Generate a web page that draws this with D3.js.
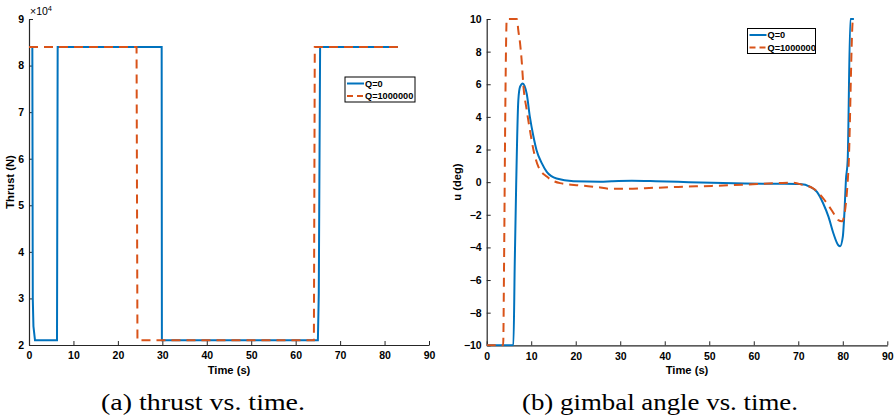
<!DOCTYPE html>
<html><head><meta charset="utf-8">
<script src="https://cdn.jsdelivr.net/npm/d3@7"></script>
<style>
body{margin:0;background:#fff;}
svg text{font-family:"Liberation Sans",Arial,sans-serif;}
svg text.cap{font-family:"Liberation Serif","DejaVu Serif",serif;}
</style></head>
<body><svg id="c" width="895" height="419"></svg>
<script>
// ---- data ----
const seriesNames = ["Q=0", "Q=1000000"];
// thrust (N)
const thrustT0 = [0, 0.75, 0.85, 1.0, 1.35, 6.3, 6.45, 29.85, 29.9, 65.0, 65.2, 65.5, 83];
const thrustV0 = [84000, 84000, 30000, 24000, 21000, 21000, 84000, 84000, 21000, 21000, 31000, 84000, 84000];
const thrustT1 = [0, 24.2, 24.4, 64.1, 64.3, 83];
const thrustV1 = [84000, 84000, 21000, 21000, 84000, 84000];
// gimbal angle (deg)
const gimT0 = [0, 6.0, 6.3, 6.6, 7.1, 7.5, 8.1, 8.5, 9.0, 9.7, 10.5, 11.2, 12.4, 13.5, 15.7, 19.5, 25.5, 28.1, 32.6, 38, 43, 50.6, 58, 65.5, 70.4, 72.7, 74.2, 75.6, 76.8, 77.9, 79.0, 79.4, 80.0, 80.4, 80.7, 81.1, 81.7, 82.5];
const gimU0 = [-10, -10, -5, -0.5, 5.0, 5.85, 6.05, 5.9, 5.4, 4.0, 2.8, 1.96, 1.15, 0.63, 0.22, 0.06, 0.03, 0.06, 0.09, 0.06, 0.02, -0.04, -0.08, -0.1, -0.12, -0.29, -0.6, -1.31, -2.13, -3.15, -3.87, -3.93, -3.36, -1.7, 0.12, 1.35, 10, 10];
const gimT1 = [0, 3.7, 3.9, 4.2, 4.5, 6.8, 7.1, 7.5, 7.9, 8.2, 9.0, 9.7, 10.5, 11.6, 13.5, 16.5, 21, 24.7, 28.1, 31.8, 35.6, 43, 50.6, 58, 65.5, 68.9, 71.1, 73.4, 75.6, 77.5, 79.0, 79.8, 80.4, 80.9, 81.3, 82.3, 82.6];
const gimU1 = [-10, -10, -5, 5, 10, 10, 9.3, 8.5, 7.3, 6.06, 4.4, 3.2, 1.98, 0.95, 0.34, -0.06, -0.2, -0.3, -0.41, -0.41, -0.37, -0.29, -0.23, -0.15, -0.06, -0.04, -0.18, -0.39, -1.0, -1.72, -2.33, -2.4, -1.92, -0.7, 0.94, 10, 10];
const xTicks = [0, 10, 20, 30, 40, 50, 60, 70, 80, 90];
const thrustTicks = [2, 3, 4, 5, 6, 7, 8, 9];
const gimTicks = [-10, -8, -6, -4, -2, 0, 2, 4, 6, 8, 10];
const captions = ["(a) thrust vs. time.", "(b) gimbal angle vs. time."];

const colors = ["#0072BD", "#D95319"];
const svg = d3.select("#c");
const axisColor = "#262626";

function panel(cfg) {
  const g = svg.append("g");
  const x = d3.scaleLinear().domain([0, 90]).range([cfg.x0, cfg.x1]);
  const y = d3.scaleLinear().domain(cfg.ydom).range([cfg.y1, cfg.y0]);
  const id = "clip" + cfg.key;
  svg.append("defs").append("clipPath").attr("id", id).append("rect")
    .attr("x", cfg.x0).attr("y", cfg.y0 - 1).attr("width", cfg.x1 - cfg.x0).attr("height", cfg.y1 - cfg.y0 + 2);

  const xa = g.append("g").attr("transform", `translate(0,${cfg.y1})`)
    .call(d3.axisBottom(x).tickValues(xTicks).tickSizeInner(-4).tickSizeOuter(0).tickPadding(7).tickFormat(d3.format("d")));
  const ya = g.append("g").attr("transform", `translate(${cfg.x0},0)`)
    .call(d3.axisLeft(y).tickValues(cfg.yticks).tickSizeInner(-4).tickSizeOuter(0).tickPadding(5).tickFormat(cfg.yfmt));
  [xa, ya].forEach(a => {
    a.select(".domain").attr("stroke", axisColor).attr("stroke-width", 1.2);
    a.selectAll(".tick line").attr("stroke", axisColor).attr("stroke-width", 1);
    a.selectAll("text").attr("fill", "#000").attr("font-weight", "bold").attr("font-size", 10.5);
  });

  g.append("text").attr("x", (cfg.x0 + cfg.x1) / 2).attr("y", cfg.y1 + 29).attr("text-anchor", "middle")
    .attr("font-weight", "bold").attr("font-size", 11.2).text("Time (s)");
  g.append("text").attr("transform", `translate(${cfg.ylabX},${(cfg.y0 + cfg.y1) / 2}) rotate(-90)`)
    .attr("text-anchor", "middle").attr("font-weight", "bold").attr("font-size", 11.2).text(cfg.ylabel);

  const line = d3.line().x(d => x(d[0])).y(d => y(d[1])).curve(cfg.curve);
  const lines = g.append("g").attr("clip-path", `url(#${id})`);
  cfg.series.forEach((s, i) => {
    lines.append("path").datum(s).attr("d", line).attr("fill", "none")
      .attr("stroke", colors[i]).attr("stroke-width", 2)
      .attr("stroke-dasharray", i === 1 ? "9,6" : null);
  });

  const L = cfg.legend;
  const lg = g.append("g");
  lg.append("rect").attr("x", L.x).attr("y", L.y).attr("width", L.w).attr("height", L.h)
    .attr("fill", "#fff").attr("stroke", "#000").attr("stroke-width", 1);
  seriesNames.forEach((n, i) => {
    const yy = L.y + 6.5 + i * 12.5;
    lg.append("line").attr("x1", L.x + 2).attr("x2", L.x + 19).attr("y1", yy).attr("y2", yy)
      .attr("stroke", colors[i]).attr("stroke-width", 2).attr("stroke-dasharray", i === 1 ? "6,4" : null);
    lg.append("text").attr("x", L.x + 20).attr("y", yy + 3.3).attr("font-size", 9.2).attr("font-weight", "bold").text(n);
  });

  svg.append("text").attr("class", "cap").attr("x", cfg.capX).attr("y", 410).attr("text-anchor", "middle")
    .attr("font-size", 23.5).attr("fill", "#000")
    .attr("textLength", cfg.capW).attr("lengthAdjust", "spacingAndGlyphs").text(cfg.caption);
  return {x, y, g};
}

const zip = (a, b) => a.map((v, i) => [v, b[i]]);

panel({
  key: "a", x0: 29, x1: 429, y0: 19, y1: 345, ydom: [2, 9], yticks: thrustTicks,
  yfmt: d3.format("d"), ylabel: "Thrust (N)", ylabX: 14, curve: d3.curveLinear,
  series: [zip(thrustT0, thrustV0.map(v => v / 1e4)), zip(thrustT1, thrustV1.map(v => v / 1e4))],
  legend: {x: 345, y: 77, w: 70, h: 25}, capX: 203, capW: 204, caption: captions[0]
});
const ex = svg.append("text").attr("x", 30).attr("y", 15).attr("font-size", 10.5);
ex.append("tspan").text("\u00d710");
ex.append("tspan").attr("font-size", 7.5).attr("dy", -4).text("4");

panel({
  key: "b", x0: 486.7, x1: 887.3, y0: 19, y1: 345.3, ydom: [-10, 10], yticks: gimTicks,
  yfmt: d3.format("d"), ylabel: "u (deg)", ylabX: 461, curve: d3.curveMonotoneX,
  series: [zip(gimT0, gimU0), zip(gimT1, gimU1)],
  legend: {x: 747.5, y: 28.5, w: 68, h: 25}, capX: 660, capW: 276, caption: captions[1]
});
</script></body></html>
